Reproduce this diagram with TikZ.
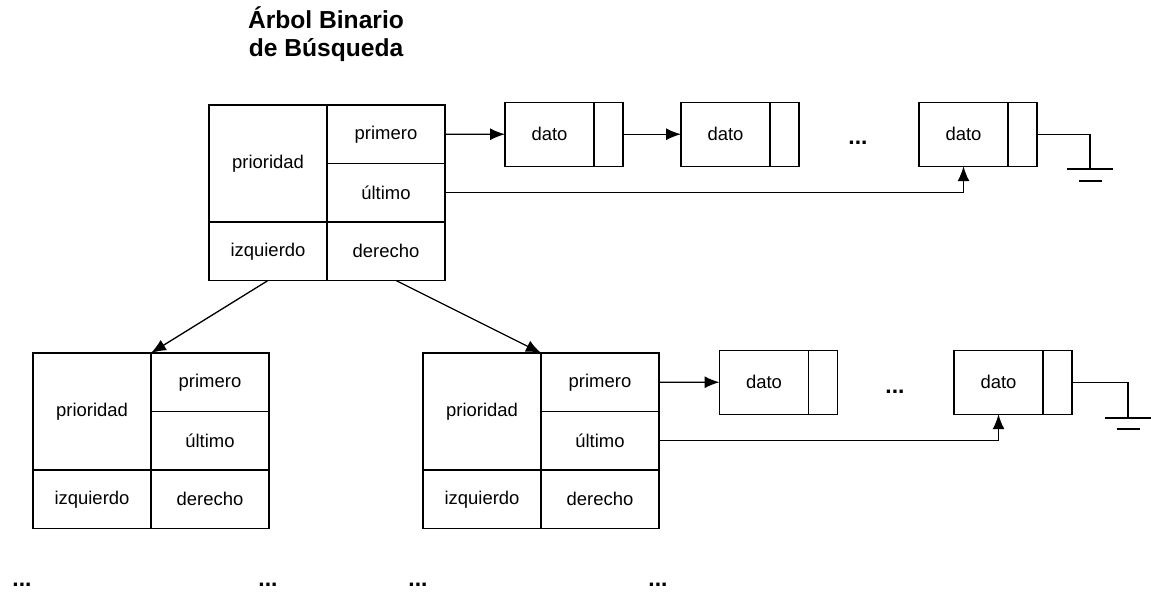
\documentclass[tikz,border=0pt]{standalone}
\usepackage{fontspec}
\setmainfont{Liberation Sans}
\usetikzlibrary{arrows.meta, positioning}

\begin{document}
\begin{tikzpicture}[
    line width=0.75pt,
    cell/.style={rectangle, draw, align=center, minimum width=2.36cm, minimum height=1.17cm, inner sep=0pt, outer sep=0pt, font=\fontsize{10.5}{12}\selectfont},
    bigcell/.style={cell, minimum height=2.34cm},
    datocell/.style={rectangle, draw, minimum width=1.78cm, minimum height=1.28cm, inner sep=0pt, outer sep=0pt, font=\fontsize{10.5}{12}\selectfont},
    ptrcell/.style={rectangle, draw, minimum width=0.58cm, minimum height=1.28cm, inner sep=0pt, outer sep=0pt},
    dots/.style={font=\bfseries\fontsize{13}{14}\selectfont, inner sep=0pt},
    arrow/.style={-{Latex[length=3mm, width=2.4mm]}}
]
\useasboundingbox (0,0) rectangle (23.02,-11.84);

\node (title) [align=center, font=\bfseries\fontsize{14}{16}\selectfont] at (6.52,-0.68) {Árbol Binario\\de Búsqueda};

\node (p1) [bigcell, anchor=north west] at (4.18,-2.10) {prioridad};
\node (f1) [cell, anchor=north west] at (p1.north east) {primero};
\node (u1) [cell, below=0pt of f1] {último};
\node (z1) [cell, below=0pt of p1] {izquierdo};
\node (r1) [cell, right=0pt of z1] {derecho};

\node (p2) [bigcell, anchor=north west] at (0.66,-7.06) {prioridad};
\node (f2) [cell, anchor=north west] at (p2.north east) {primero};
\node (u2) [cell, below=0pt of f2] {último};
\node (z2) [cell, below=0pt of p2] {izquierdo};
\node (r2) [cell, right=0pt of z2] {derecho};

\node (p3) [bigcell, anchor=north west] at (8.46,-7.06) {prioridad};
\node (f3) [cell, anchor=north west] at (p3.north east) {primero};
\node (u3) [cell, below=0pt of f3] {último};
\node (z3) [cell, below=0pt of p3] {izquierdo};
\node (r3) [cell, right=0pt of z3] {derecho};

\node (d1) [datocell] at (10.99,-2.685) {dato};
\node (q1) [ptrcell, right=0pt of d1] {};
\node (d2) [datocell] at (14.51,-2.685) {dato};
\node (q2) [ptrcell, right=0pt of d2] {};
\node (d3) [datocell] at (19.27,-2.685) {dato};
\node (q3) [ptrcell, right=0pt of d3] {};

\node (d4) [datocell] at (15.28,-7.645) {dato};
\node (q4) [ptrcell, right=0pt of d4] {};
\node (d5) [datocell] at (19.97,-7.645) {dato};
\node (q5) [ptrcell, right=0pt of d5] {};

\node (dots1) [dots] at (17.16,-2.86) {...};
\node (dots2) [dots] at (17.90,-7.84) {...};
\node (dots3) [dots] at (0.44,-11.70) {...};
\node (dots4) [dots] at (5.36,-11.70) {...};
\node (dots5) [dots] at (8.36,-11.70) {...};
\node (dots6) [dots] at (13.16,-11.70) {...};

\coordinate (g1) at (21.80,-3.38);
\coordinate (g2) at (22.56,-8.36);

\draw [arrow] (f1.east) -- (d1.west);
\draw [arrow] (q1.east) -- (d2.west);
\draw [arrow] (u1.east) -| (d3.south);
\draw (q3.east) -| (g1);
\draw ([xshift=-0.46cm]g1) -- ([xshift=0.46cm]g1);
\draw ([xshift=-0.23cm, yshift=-0.24cm]g1) -- ([xshift=0.23cm, yshift=-0.24cm]g1);

\draw [arrow] (z1.south) -- (p2.north east);
\draw [arrow] ([xshift=0.2cm]r1.south) -- (p3.north east);

\draw [arrow] (f3.east) -- (d4.west);
\draw [arrow] (u3.east) -| (d5.south);
\draw (q5.east) -| (g2);
\draw ([xshift=-0.46cm]g2) -- ([xshift=0.46cm]g2);
\draw ([xshift=-0.23cm, yshift=-0.22cm]g2) -- ([xshift=0.23cm, yshift=-0.22cm]g2);

\end{tikzpicture}
\end{document}
